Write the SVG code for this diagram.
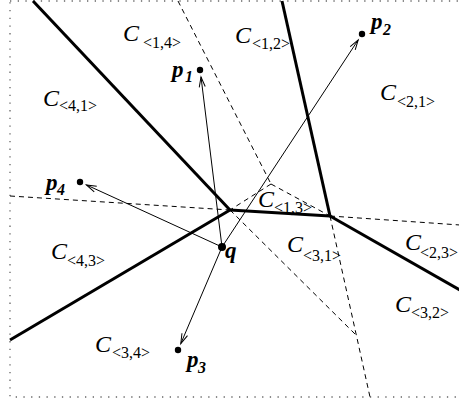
<svg xmlns="http://www.w3.org/2000/svg" width="459" height="404" viewBox="0 0 459 404">
<style>
.frame{fill:none;stroke:#666;stroke-width:1.3;stroke-dasharray:1.3 6.4}
.thick{fill:none;stroke:#000;stroke-width:3;stroke-linecap:butt}
.dash{fill:none;stroke:#000;stroke-width:1;stroke-dasharray:5 4}
.arrow{fill:none;stroke:#000;stroke-width:1;marker-end:url(#ah)}
.C{font-family:"Liberation Serif",serif;font-style:italic;font-size:24px;fill:#000}
.sub{font-family:"Liberation Serif",serif;font-size:16px;fill:#000}
.P{font-family:"Liberation Serif",serif;font-style:italic;font-weight:bold;font-size:23px;fill:#000}
.psub{font-family:"Liberation Serif",serif;font-style:italic;font-weight:bold;font-size:16px;fill:#000}
.dot{fill:#000}
</style>
<defs>
<marker id="ah" viewBox="-12 -5 14 10" refX="0" refY="0" markerWidth="14" markerHeight="10" markerUnits="userSpaceOnUse" orient="auto">
<path d="M-10,-3 L0,0 L-10,3" fill="none" stroke="#000" stroke-width="1"/>
</marker>
</defs>
<rect class="frame" x="10" y="1" width="460" height="396"/>
<g id="connectors">
<g id="voronoi-edges">
<line class="thick" x1="33" y1="1" x2="230" y2="210"/>
<line class="thick" x1="230" y1="210" x2="10" y2="340"/>
<line class="thick" x1="230" y1="210" x2="330" y2="216"/>
<line class="thick" x1="282" y1="1" x2="330" y2="216"/>
<line class="thick" x1="330" y1="216" x2="460" y2="290"/>
</g>
<g id="order2-edges">
<line class="dash" x1="178" y1="1" x2="271" y2="184"/>
<line class="dash" x1="271" y1="184" x2="230" y2="210"/>
<line class="dash" x1="271" y1="184" x2="330" y2="216"/>
<line class="dash" x1="10" y1="196" x2="230" y2="210"/>
<line class="dash" x1="330" y1="216" x2="460" y2="225"/>
<line class="dash" x1="230" y1="210" x2="356" y2="335"/>
<line class="dash" x1="330" y1="216" x2="370" y2="397"/>
</g>
<g id="arrows">
<line class="arrow" x1="222" y1="247" x2="201" y2="77"/>
<line class="arrow" x1="222" y1="247" x2="358.2" y2="39.9"/>
<line class="arrow" x1="222" y1="247" x2="180.8" y2="343.6"/>
<line class="arrow" x1="222" y1="247" x2="86.4" y2="184.9"/>
</g>
</g>
<g id="p1"><circle class="dot" cx="200" cy="70" r="3.2"/><text class="P" x="172" y="77">p</text><text class="psub" x="185" y="82">1</text></g>
<g id="p2"><circle class="dot" cx="362" cy="34" r="3.2"/><text class="P" x="371" y="29">p</text><text class="psub" x="383" y="35">2</text></g>
<g id="p3"><circle class="dot" cx="178" cy="350" r="3.2"/><text class="P" x="187" y="367">p</text><text class="psub" x="198" y="373">3</text></g>
<g id="p4"><circle class="dot" cx="80" cy="182" r="3.2"/><text class="P" x="46" y="190">p</text><text class="psub" x="57" y="195">4</text></g>
<g id="q"><circle class="dot" cx="222" cy="247" r="4"/><text class="P" x="225" y="258">q</text></g>
<g id="C14"><text class="C" x="123" y="41">C</text><text class="sub" x="143" y="48">&lt;1,4&gt;</text></g>
<g id="C12"><text class="C" x="235" y="43">C</text><text class="sub" x="252" y="49">&lt;1,2&gt;</text></g>
<g id="C21"><text class="C" x="380" y="100">C</text><text class="sub" x="397" y="107">&lt;2,1&gt;</text></g>
<g id="C41"><text class="C" x="43" y="106">C</text><text class="sub" x="59" y="111">&lt;4,1&gt;</text></g>
<g id="C13"><text class="C" x="258" y="207">C</text><text class="sub" x="274" y="213">&lt;1,3&gt;</text></g>
<g id="C43"><text class="C" x="51" y="259">C</text><text class="sub" x="67" y="266">&lt;4,3&gt;</text></g>
<g id="C31"><text class="C" x="287" y="252">C</text><text class="sub" x="303" y="261">&lt;3,1&gt;</text></g>
<g id="C23"><text class="C" x="405" y="250">C</text><text class="sub" x="420" y="258">&lt;2,3&gt;</text></g>
<g id="C32"><text class="C" x="395" y="312">C</text><text class="sub" x="411" y="318">&lt;3,2&gt;</text></g>
<g id="C34"><text class="C" x="95" y="352">C</text><text class="sub" x="112" y="358">&lt;3,4&gt;</text></g>
</svg>
